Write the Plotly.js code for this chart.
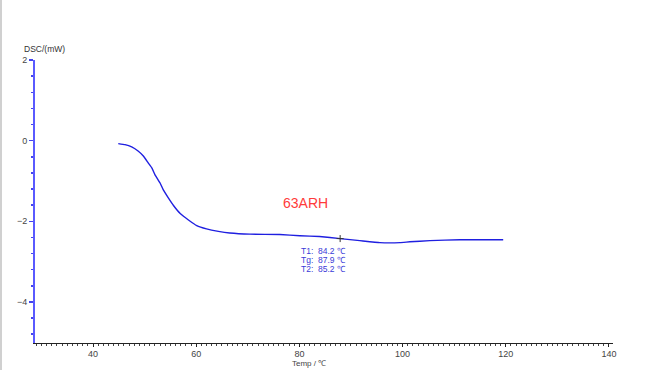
<!DOCTYPE html>
<html><head><meta charset="utf-8">
<script src="https://cdn.plot.ly/plotly-3.0.1.min.js"></script>
<style>html,body{margin:0;padding:0;background:#fff;}#chart{width:646px;height:370px;}</style>
</head><body><div id="chart"></div>
<script>
const temp = [44.9,46.2,47.5,48.8,49.8,50.7,51.4,52.0,53.0,53.6,54.6,55.6,56.9,58.5,60.1,62.0,64.3,66.5,70.4,76.2,80.1,83.9,87.9,91.7,95.6,99.5,101.4,105.3,111.1,115.0,119.5];
const dsc  = [-0.074,-0.099,-0.157,-0.265,-0.389,-0.553,-0.677,-0.843,-1.05,-1.215,-1.42,-1.61,-1.81,-1.97,-2.11,-2.19,-2.25,-2.29,-2.32,-2.33,-2.36,-2.38,-2.43,-2.48,-2.53,-2.53,-2.51,-2.48,-2.46,-2.46,-2.46];
const resultLabels = ["T1:","Tg:","T2:"];
const resultValues = ["84.2 ℃","87.9 ℃","85.2 ℃"];
const sampleName = "63ARH";
const tgPoint = {x: 87.9, y: -2.43};

const F = 'Liberation Sans, Arial';
const ann = [];
ann.push({x:81.1, y:-1.54, xref:'x', yref:'y', text:sampleName, showarrow:false,
  font:{family:F, size:14, color:'#ff3b3b'}});
resultLabels.forEach((l,i)=>{
  ann.push({x:80.0, y:-2.73-0.223*i, xref:'x', yref:'y', text:l, showarrow:false, xanchor:'left',
    font:{family:F, size:8.5, color:'#3a3ad8'}});
  ann.push({x:83.3, y:-2.73-0.223*i, xref:'x', yref:'y', text:resultValues[i], showarrow:false, xanchor:'left',
    font:{family:F, size:8.5, color:'#3a3ad8'}});
});
ann.push({x:0, y:1, xref:'paper', yref:'paper', xshift:-13, yshift:4, text:'DSC/(mW)', showarrow:false,
  xanchor:'left', yanchor:'bottom', font:{family:F, size:8.5, color:'#333'}});
ann.push({x:81.9, y:0, xref:'x', yref:'paper', yshift:-20, text:'Temp / ℃', showarrow:false,
  yanchor:'middle', font:{family:F, size:8, color:'#444'}});

const traces = [
  {x:temp, y:dsc, type:'scatter', mode:'lines', line:{color:'#1f1fe0', width:1.4, shape:'spline', smoothing:0.3}, hoverinfo:'skip'},
  {x:[tgPoint.x], y:[tgPoint.y], type:'scatter', mode:'markers', marker:{symbol:'cross-thin', size:5, line:{color:'#333', width:1}}, hoverinfo:'skip'}
];

const layout = {
  width:646, height:370, showlegend:false,
  paper_bgcolor:'#fff', plot_bgcolor:'#fff',
  margin:{l:35, r:33, t:60, b:27},
  xaxis:{range:[28.76,140.78], showgrid:false, zeroline:false, showline:true, linecolor:'#222', linewidth:1,
    tick0:40, dtick:20, ticks:'outside', ticklen:3, tickcolor:'#222', ticklabelstandoff:-1,
    minor:{dtick:1, tick0:40, ticks:'outside', ticklen:2, tickcolor:'#444', showgrid:false},
    tickfont:{family:F, size:9, color:'#444'}},
  yaxis:{range:[-5.02,2], showgrid:false, zeroline:false, showline:true, linecolor:'#5a5aff', linewidth:2,
    tick0:0, dtick:2, ticks:'outside', ticklen:4, tickcolor:'#4444ee', tickwidth:1.5,
    minor:{dtick:0.4, tick0:0, ticks:'outside', ticklen:2, tickcolor:'#4444ee', showgrid:false},
    tickfont:{family:F, size:9, color:'#444'}},
  annotations:ann,
  shapes:[{type:'rect', xref:'paper', yref:'paper', x0:-0.0606, x1:-0.0571, y0:-0.2, y1:1.3, fillcolor:'#d0d0d0', line:{width:0}, layer:'below'}]
};
Plotly.newPlot('chart', traces, layout, {displayModeBar:false, staticPlot:true});
</script></body></html>
